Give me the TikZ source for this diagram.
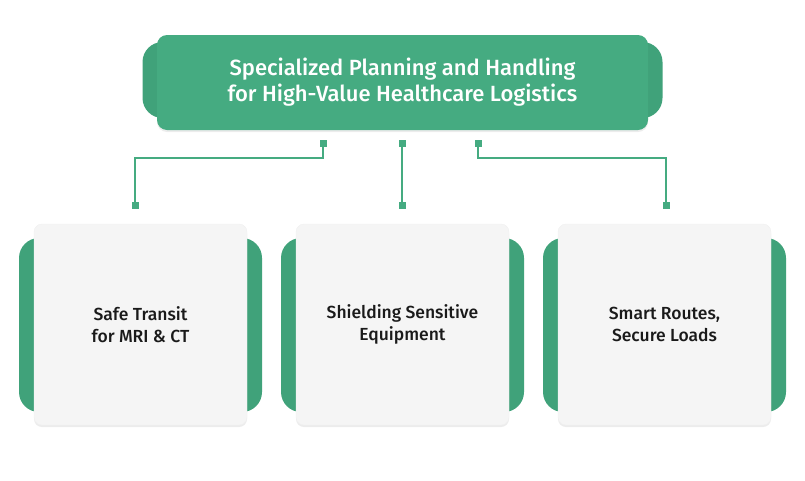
\documentclass[tikz,border=0pt]{standalone}
\usepackage{fontspec}
\setmainfont{Fira Sans}
\newfontfamily\medfont{Fira Sans Medium}
\usetikzlibrary{shadows}
\definecolor{leaf}{HTML}{45AB81}
\definecolor{leafdark}{HTML}{40A27A}
\definecolor{cardgray}{HTML}{F5F5F5}
\definecolor{ink}{HTML}{1A1A1A}
\begin{document}
\begin{tikzpicture}[x=1pt,y=-1pt]
  \tikzstyle{tab}=[rounded corners=20pt,fill=leafdark,inner sep=0pt]
  \tikzstyle{head}=[minimum width=491pt,minimum height=95pt,rounded corners=10pt,fill=leaf,
    text=white,font=\medfont\fontsize{22}{26}\selectfont,align=center,
    drop shadow={shadow xshift=0pt,shadow yshift=-2pt,opacity=0.15}]
  \tikzstyle{card}=[minimum width=213pt,minimum height=201pt,rounded corners=8pt,fill=cardgray,
    draw=black!6,text=ink,font=\medfont\fontsize{17.5}{21.5}\selectfont,align=center,
    drop shadow={shadow xshift=0pt,shadow yshift=-2pt,opacity=0.15}]
  \tikzstyle{dot}=[fill=leaf,minimum size=7pt,inner sep=0pt]
  \tikzstyle{link}=[draw=leaf,line width=1.5pt]

  \useasboundingbox (0,0) rectangle (805,480);

  % title
  \node [tab,minimum width=520pt,minimum height=76pt] (headtab) at (402.5,80) {};
  \node [head] (head) at (402.5,82.5) {Specialized Planning and Handling\\for High-Value Healthcare Logistics};

  % cards
  \node [tab,minimum width=243pt,minimum height=174pt] (tabA) at (140.5,325) {};
  \node [card] (transit) at (140.5,324.5) {Safe Transit\\for MRI \& CT};
  \node [tab,minimum width=243pt,minimum height=174pt] (tabB) at (402.5,325) {};
  \node [card] (shield) at (402.5,324.5) {Shielding Sensitive\\Equipment};
  \node [tab,minimum width=243pt,minimum height=174pt] (tabC) at (664.5,325) {};
  \node [card] (routes) at (664.5,324.5) {Smart Routes,\\Secure Loads};

  % connectors
  \coordinate (topA) at (323,143);
  \coordinate (topB) at (402,143);
  \coordinate (topC) at (478,143);
  \coordinate (endA) at (135,205);
  \coordinate (endB) at (402,205);
  \coordinate (endC) at (666,205);
  \draw [link] (topA) -- ++(0,15) -| (endA);
  \draw [link] (topB) -- (endB);
  \draw [link] (topC) -- ++(0,15) -| (endC);
  \node [dot] (dotA) at (topA) {};
  \node [dot] (dotB) at (topB) {};
  \node [dot] (dotC) at (topC) {};
  \node [dot] (dotD) at (endA) {};
  \node [dot] (dotE) at (endB) {};
  \node [dot] (dotF) at (endC) {};
\end{tikzpicture}
\end{document}
